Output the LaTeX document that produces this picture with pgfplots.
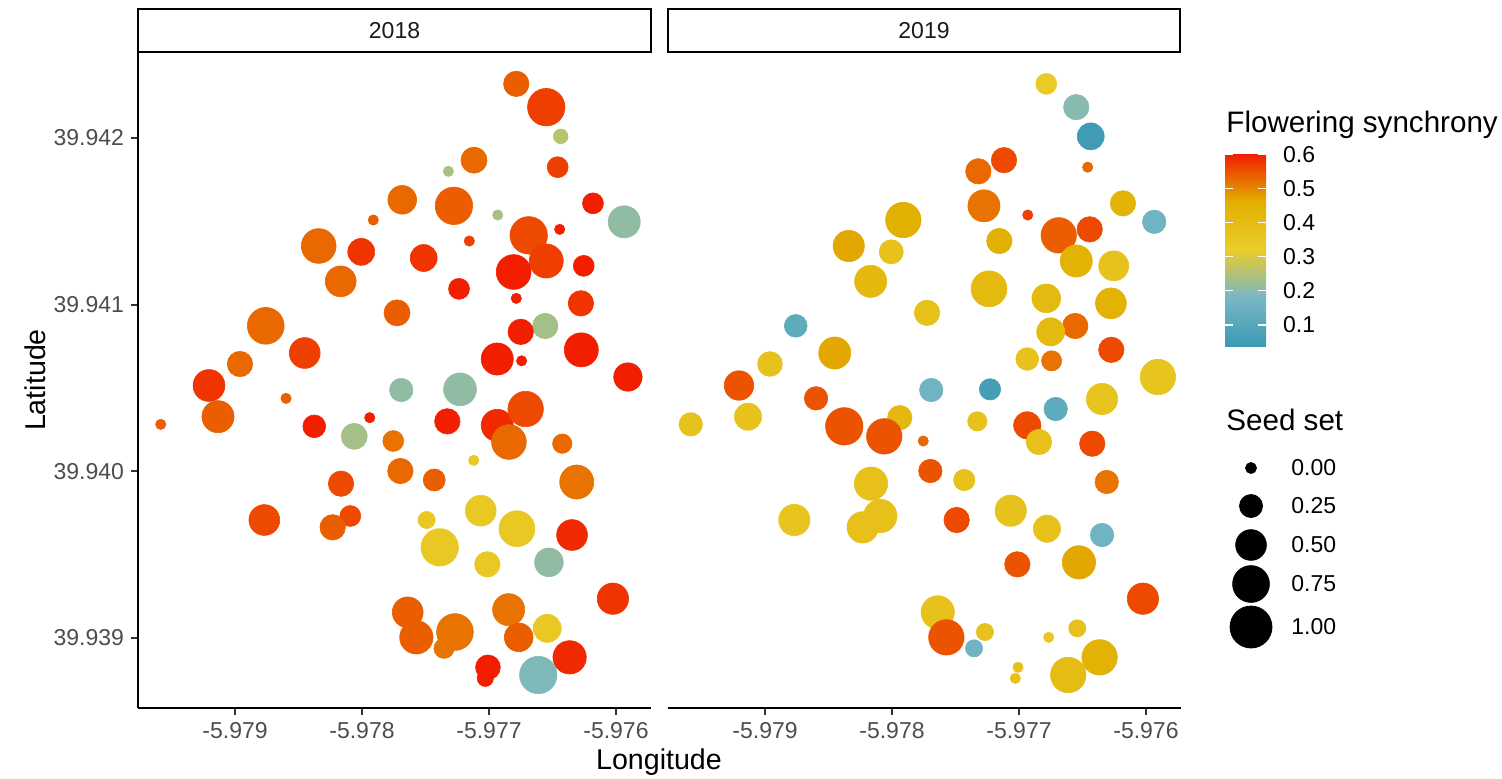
\documentclass[border=0pt]{standalone}
\usepackage{fontspec}
\setmainfont{Liberation Sans}
\usepackage{pgfplots}
\pgfplotsset{compat=1.18}
\usepackage{pgfplotstable}

\definecolor{tickgray}{HTML}{4D4D4D}
\definecolor{stripgray}{HTML}{1A1A1A}

% x = (longitude + 5.98)*1000, y = (latitude - 39.938)*1000
% c = flowering synchrony, s = seed set
\pgfplotstableread{
x y c s
3.215 4.325 0.54 0.34
3.451 4.185 0.57 0.81
3.565 4.010 0.26 0.07
2.882 3.867 0.53 0.36
2.680 3.800 0.24 0.00
3.541 3.825 0.57 0.21
2.317 3.629 0.53 0.45
2.724 3.593 0.54 0.81
2.089 3.508 0.54 0.00
3.819 3.608 0.60 0.21
4.065 3.497 0.21 0.58
3.069 3.538 0.24 0.00
3.557 3.452 0.60 0.00
3.313 3.416 0.56 0.81
2.845 3.382 0.57 0.00
1.659 3.352 0.53 0.69
1.994 3.317 0.58 0.39
2.486 3.280 0.58 0.39
3.451 3.262 0.57 0.66
3.194 3.196 0.60 0.69
3.746 3.233 0.60 0.21
1.832 3.140 0.53 0.53
2.764 3.095 0.60 0.21
3.215 3.038 0.60 0.00
3.724 3.008 0.58 0.34
2.276 2.951 0.54 0.36
1.242 2.873 0.53 0.78
3.443 2.872 0.235 0.34
3.250 2.837 0.60 0.34
1.549 2.710 0.57 0.53
3.727 2.729 0.60 0.66
3.065 2.674 0.60 0.58
3.257 2.663 0.60 0.00
1.039 2.644 0.53 0.34
4.094 2.566 0.60 0.44
0.795 2.515 0.58 0.57
2.309 2.488 0.21 0.28
2.772 2.492 0.21 0.61
0.866 2.328 0.54 0.58
0.415 2.282 0.54 0.00
1.402 2.438 0.54 0.00
1.624 2.270 0.60 0.26
2.061 2.322 0.60 0.00
1.939 2.210 0.235 0.36
2.246 2.182 0.52 0.21
2.672 2.300 0.60 0.34
3.065 2.276 0.59 0.58
3.289 2.374 0.56 0.72
3.157 2.176 0.53 0.69
3.577 2.166 0.53 0.17
2.880 2.066 0.34 0.00
2.302 2.002 0.53 0.34
2.569 1.948 0.54 0.24
1.835 1.926 0.56 0.34
3.691 1.936 0.52 0.66
1.231 1.708 0.56 0.53
1.908 1.732 0.56 0.21
1.769 1.664 0.54 0.34
2.509 1.708 0.34 0.12
2.935 1.764 0.34 0.53
2.612 1.544 0.34 0.81
3.220 1.656 0.34 0.74
2.987 1.442 0.34 0.34
3.654 1.618 0.59 0.53
3.472 1.454 0.21 0.45
3.976 1.236 0.58 0.55
2.360 1.154 0.54 0.53
2.428 1.004 0.54 0.63
2.732 1.036 0.52 0.78
2.646 0.938 0.52 0.19
3.155 1.170 0.52 0.58
3.234 1.004 0.54 0.45
3.459 1.058 0.34 0.43
3.635 0.884 0.59 0.63
2.992 0.824 0.60 0.32
2.971 0.758 0.60 0.10
3.388 0.778 0.19 0.81
}\dataA

\pgfplotstableread{
x y c s
3.215 4.325 0.33 0.21
3.451 4.185 0.20 0.34
3.565 4.010 0.05 0.39
2.882 3.867 0.56 0.34
2.680 3.800 0.53 0.34
3.541 3.825 0.53 0.00
2.724 3.593 0.52 0.58
2.089 3.508 0.46 0.72
3.819 3.608 0.44 0.34
4.065 3.497 0.16 0.28
3.069 3.538 0.57 0.00
3.557 3.452 0.56 0.34
3.313 3.416 0.54 0.72
2.845 3.382 0.46 0.34
1.659 3.352 0.47 0.55
1.994 3.317 0.37 0.30
3.451 3.262 0.45 0.58
3.746 3.233 0.37 0.50
1.832 3.140 0.42 0.58
2.764 3.095 0.41 0.74
3.215 3.038 0.41 0.45
3.724 3.008 0.45 0.53
2.276 2.951 0.38 0.34
1.242 2.873 0.12 0.26
3.443 2.872 0.53 0.34
3.250 2.837 0.41 0.43
1.549 2.710 0.47 0.58
3.727 2.729 0.56 0.34
3.065 2.674 0.37 0.26
3.257 2.663 0.52 0.19
1.039 2.644 0.37 0.32
4.094 2.566 0.36 0.72
0.795 2.515 0.55 0.48
2.309 2.488 0.16 0.28
2.772 2.492 0.06 0.22
0.866 2.328 0.37 0.40
0.415 2.282 0.37 0.28
1.402 2.438 0.55 0.28
1.624 2.270 0.55 0.81
2.061 2.322 0.42 0.31
1.939 2.210 0.55 0.72
2.246 2.182 0.53 0.00
2.672 2.300 0.37 0.17
3.065 2.276 0.56 0.40
3.289 2.374 0.12 0.28
3.157 2.176 0.38 0.34
3.577 2.166 0.56 0.34
3.654 2.434 0.36 0.55
2.302 2.002 0.55 0.28
2.569 1.948 0.38 0.22
1.835 1.926 0.38 0.63
3.691 1.936 0.52 0.28
1.231 1.708 0.36 0.55
1.908 1.732 0.38 0.63
1.769 1.664 0.38 0.55
2.509 1.708 0.56 0.34
2.935 1.764 0.37 0.55
3.220 1.656 0.38 0.40
2.987 1.442 0.55 0.34
3.654 1.618 0.16 0.28
3.472 1.454 0.47 0.63
3.976 1.236 0.56 0.55
2.360 1.154 0.37 0.63
2.428 1.004 0.55 0.72
2.732 1.036 0.37 0.12
2.646 0.938 0.16 0.12
3.234 1.004 0.35 0.00
3.459 1.058 0.38 0.12
3.635 0.884 0.45 0.72
2.992 0.824 0.38 0.00
2.971 0.758 0.38 0.00
3.388 0.778 0.40 0.72
}\dataB

% size legend: position (px grid of the legend box) and seed set value
\pgfplotstableread{
x y s
1251 -468 0.00
1251 -506 0.25
1251 -545 0.50
1251 -584 0.75
1251 -627 1.00
}\sizekey

\pgfplotsset{
  /pgf/number format/assume math mode=true,
  every non boxed x axis/.style={},
  every non boxed y axis/.style={},
  panel/.style={
    scale only axis, width=256.5pt, height=328pt, anchor=north west,
    xmin=0.236, xmax=4.276, ymin=0.580, ymax=4.516,
    xtick={1,2,3,4}, xticklabels={-5.979,-5.978,-5.977,-5.976},
    tick style={line width=1.1pt, color=black!80},
    axis line style={line width=1.2pt, black},
    ticklabel style={font=\fontsize{11.5}{13}\selectfont, text=tickgray},
    point meta min=0.038, point meta max=0.604,
    colormap={zissou}{rgb255=(59,154,178) rgb255=(120,183,197)
      rgb255=(235,204,42) rgb255=(225,175,0) rgb255=(242,26,0)},
  },
  seeds/.style={scatter, only marks, mark=*, scatter src=explicit,
    scatter/use mapped color={draw=mapped color, fill=mapped color},
    mark options={line width=0.3pt},
    visualization depends on={\thisrow{s} \as \seed},
    scatter/@pre marker code/.append style={/tikz/mark size={0.5*sqrt(30+410*\seed)-0.15}}},
}

\begin{document}
\begin{tikzpicture}
\useasboundingbox (0,0) rectangle (751pt,-389pt);

% facet strips
\draw[line width=1.1pt, black, fill=white] (69pt,-4.5pt) rectangle (325.5pt,-26pt);
\draw[line width=1.1pt, black, fill=white] (334pt,-4.5pt) rectangle (590pt,-26pt);
\node[font=\fontsize{11.5}{13}\selectfont, text=stripgray] at (197.25pt,-15.25pt) {2018};
\node[font=\fontsize{11.5}{13}\selectfont, text=stripgray] at (462pt,-15.25pt) {2019};

\begin{axis}[panel, at={(69pt,-26pt)},
  axis x line=bottom, axis y line=left,
  x axis line style={-}, y axis line style={-},
  tick align=outside, major tick length=3.5pt,
  ytick={1,2,3,4}, yticklabels={39.939,39.940,39.941,39.942}]
\addplot[seeds] table[x=x, y=y, meta=c] {\dataA};
\end{axis}

\begin{axis}[panel, at={(334pt,-26pt)},
  axis x line=bottom, axis y line=none, ytick=\empty,
  x axis line style={-},
  tick align=outside, major tick length=3.5pt,
  colorbar, colorbar/width=20.5pt,
  colorbar style={
    at={(parent axis.north east)}, anchor=north west,
    xshift=13.5pt, yshift=-50.5pt,
    height=96.5pt,
    ytick={0.1,0.2,0.3,0.4,0.5,0.6},
    yticklabels={0.1,0.2,0.3,0.4,0.5,0.6},
    ytick pos=both, yticklabel pos=right,
    ytick align=inside, major tick length=4pt,
    major tick style={white, line width=0.7pt},
    ytick style={white, line width=0.7pt},
    axis line style={draw=none},
    yticklabel style={font=\fontsize{11.5}{13}\selectfont, text=black, xshift=5pt},
  }]
\addplot[seeds] table[x=x, y=y, meta=c] {\dataB};
\end{axis}

% seed set key
\begin{axis}[at={(600pt,-230pt)}, anchor=north west, scale only axis,
  width=75pt, height=100pt, xmin=1200, xmax=1350, ymin=-660, ymax=-460,
  hide axis, clip=false]
\addplot[scatter, only marks, mark=*, scatter src=explicit,
  scatter/use mapped color={draw=black, fill=black},
  visualization depends on={\thisrow{s} \as \seed},
  scatter/@pre marker code/.append style={/tikz/mark size={0.5*sqrt(30+410*\seed)}}]
  table[x=x, y=y, meta=s] {\sizekey};
\addplot[only marks, mark=none, point meta=\thisrow{s},
  nodes near coords={\pgfmathprintnumber[fixed, fixed zerofill, precision=2]{\pgfplotspointmeta}},
  nodes near coords style={anchor=west, inner sep=0pt, xshift=20pt,
    font=\fontsize{11.5}{13}\selectfont, text=black}]
  table[x=x, y=y] {\sizekey};
\end{axis}

\node[font=\fontsize{14.3}{16}\selectfont] at (329.5pt,-381pt) {Longitude};
\node[font=\fontsize{14.3}{16}\selectfont, rotate=90] at (17.5pt,-190pt) {Latitude};
\node[font=\fontsize{14.8}{16}\selectfont, anchor=west, inner sep=0pt] at (613pt,-62.5pt) {Flowering synchrony};
\node[font=\fontsize{14.8}{16}\selectfont, anchor=west, inner sep=0pt] at (613pt,-210pt) {Seed set};
\end{tikzpicture}
\end{document}
